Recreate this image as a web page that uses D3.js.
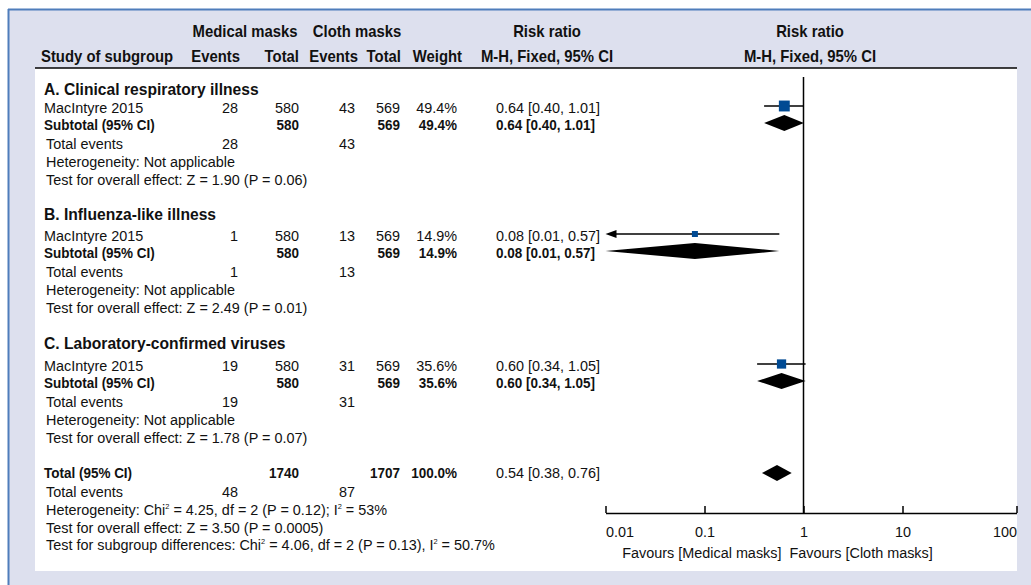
<!DOCTYPE html>
<html>
<head>
<meta charset="utf-8">
<script src="https://cdn.jsdelivr.net/npm/d3@7"></script>
<style>
  html, body { margin: 0; padding: 0; background: #fff; }
  svg { display: block; font-family: "Liberation Sans", Arial, sans-serif; }
</style>
</head>
<body>
<svg id="chart" width="1031" height="585"></svg>
<script>
// subgroup data
var subgroups = ["A. Clinical respiratory illness", "B. Influenza-like illness", "C. Laboratory-confirmed viruses"];
var studies = ["MacIntyre 2015", "MacIntyre 2015", "MacIntyre 2015"];
var medEvents = [28, 1, 19];
var medTotal = [580, 580, 580];
var clothEvents = [43, 13, 31];
var clothTotal = [569, 569, 569];
var weights = [49.4, 14.9, 35.6];
var rr = [0.64, 0.08, 0.60];
var rrLow = [0.40, 0.01, 0.34];
var rrHigh = [1.01, 0.57, 1.05];
var effectTests = ["Z = 1.90 (P = 0.06)", "Z = 2.49 (P = 0.01)", "Z = 1.78 (P = 0.07)"];

// overall
var totalMed = 1740, totalCloth = 1707, totalWeight = "100.0%";
var totalEventsMed = 48, totalEventsCloth = 87;
var totalRR = 0.54, totalLow = 0.38, totalHigh = 0.76;

var axisTicks = [0.01, 0.1, 1, 10, 100];
var axisLabels = ["0.01", "0.1", "1", "10", "100"];

var svg = d3.select("#chart");

// frame
svg.append("rect").attr("x", 8).attr("y", 9).attr("width", 1023).attr("height", 576).attr("fill", "#dde0ee");
svg.append("line").attr("x1", 8).attr("x2", 1031).attr("y1", 9.5).attr("y2", 9.5).attr("stroke", "#4f7dbb").attr("stroke-width", 2);
svg.append("line").attr("x1", 8.5).attr("x2", 8.5).attr("y1", 9).attr("y2", 585).attr("stroke", "#4f7dbb").attr("stroke-width", 2);
svg.append("rect").attr("x", 35).attr("y", 68).attr("width", 982).attr("height", 503).attr("fill", "#fff");
svg.append("line").attr("x1", 35).attr("x2", 1017).attr("y1", 68).attr("y2", 68).attr("stroke", "#000").attr("stroke-width", 1.5);

// text styles: condensed look by squeezing Liberation Sans horizontally
var styles = {
  reg:  {size: 15.5, sx: 0.93, bold: false},
  bold: {size: 15.5, sx: 0.87, bold: true},
  head: {size: 16,   sx: 0.93, bold: true},
  sect: {size: 17,   sx: 0.92, bold: true}
};

function txt(x, y, s, st, anchor) {
  st = styles[st || "reg"];
  return svg.append("text")
    .attr("transform", "translate(" + x + "," + y + ") scale(" + st.sx + ",1)")
    .attr("font-size", st.size)
    .attr("font-weight", st.bold ? "bold" : "normal")
    .attr("text-anchor", anchor || "start")
    .attr("fill", "#111")
    .text(s);
}

// header
txt(245, 37, "Medical masks", "head", "middle");
txt(357, 37, "Cloth masks", "head", "middle");
txt(547, 37, "Risk ratio", "head", "middle");
txt(810, 37, "Risk ratio", "head", "middle");
txt(41, 62, "Study of subgroup", "head");
txt(240, 62, "Events", "head", "end");
txt(299, 62, "Total", "head", "end");
txt(358, 62, "Events", "head", "end");
txt(401, 62, "Total", "head", "end");
txt(462, 62, "Weight", "head", "end");
txt(547, 62, "M-H, Fixed, 95% CI", "head", "middle");
txt(810, 62, "M-H, Fixed, 95% CI", "head", "middle");

// forest scale
var x = d3.scaleLog().domain([0.01, 10, 100]).range([605.5, 902.5, 1016.5]);
var axisY = 513;
var fmt = d3.format(".2f");

svg.append("line").attr("x1", x(1)).attr("x2", x(1)).attr("y1", 77).attr("y2", axisY)
  .attr("stroke", "#000").attr("stroke-width", 1.5);

function ciText(r, l, h) { return fmt(r) + " [" + fmt(l) + ", " + fmt(h) + "]"; }

function diamond(r, l, h, cy) {
  svg.append("path")
    .attr("d", "M" + x(l) + "," + cy + "L" + x(r) + "," + (cy - 8) + "L" + x(h) + "," + cy + "L" + x(r) + "," + (cy + 8) + "Z")
    .attr("fill", "#000");
}

function withSup(xp, y, parts) {
  var t = txt(xp, y, "", "reg");
  var back = 0;
  parts.forEach(function(p) {
    var sp = t.append("tspan").text(p.s);
    if (p.sup) {
      sp.attr("font-size", 8).attr("dy", -6);
      back = 6;
    } else if (back) {
      sp.attr("dy", back);
      back = 0;
    }
  });
  return t;
}

var headerY = [89, 214, 343];
var studyY = [108, 236, 366];
subgroups.forEach(function(name, i) {
  var y0 = headerY[i], ys0 = studyY[i];
  txt(44, y0 + 6, name, "sect");
  // study row
  txt(44, ys0 + 5, studies[i]);
  txt(238, ys0 + 5, medEvents[i], "reg", "end");
  txt(299, ys0 + 5, medTotal[i], "reg", "end");
  txt(355, ys0 + 5, clothEvents[i], "reg", "end");
  txt(400, ys0 + 5, clothTotal[i], "reg", "end");
  txt(457, ys0 + 5, weights[i].toFixed(1) + "%", "reg", "end");
  txt(496, ys0 + 5, ciText(rr[i], rrLow[i], rrHigh[i]));
  // subtotal row
  var ySub = ys0 + 16.5;
  txt(44, ySub + 5, "Subtotal (95% CI)", "bold");
  txt(299, ySub + 5, medTotal[i], "bold", "end");
  txt(400, ySub + 5, clothTotal[i], "bold", "end");
  txt(457, ySub + 5, weights[i].toFixed(1) + "%", "bold", "end");
  txt(496, ySub + 5, ciText(rr[i], rrLow[i], rrHigh[i]), "bold");
  // stats rows
  txt(46, ys0 + 41, "Total events");
  txt(238, ys0 + 41, medEvents[i], "reg", "end");
  txt(355, ys0 + 41, clothEvents[i], "reg", "end");
  txt(46, ys0 + 59, "Heterogeneity: Not applicable");
  txt(46, ys0 + 77, "Test for overall effect: " + effectTests[i]);

  // forest marks
  var ys = ys0 - 2;
  var lineStart = x(rrLow[i]);
  if (rrLow[i] <= x.domain()[0]) {
    lineStart = x(rrLow[i]) + 10;
    svg.append("path")
      .attr("d", "M" + x(rrLow[i]) + "," + ys + "L" + (x(rrLow[i]) + 11) + "," + (ys - 4) + "L" + (x(rrLow[i]) + 11) + "," + (ys + 4) + "Z")
      .attr("fill", "#000");
  }
  svg.append("line").attr("x1", lineStart).attr("x2", x(rrHigh[i])).attr("y1", ys).attr("y2", ys)
    .attr("stroke", "#000").attr("stroke-width", 1.5);
  var side = Math.sqrt(weights[i]) * 1.55;
  svg.append("rect")
    .attr("x", x(rr[i]) - side / 2).attr("y", ys - side / 2)
    .attr("width", side).attr("height", side)
    .attr("fill", "#004a93");
  diamond(rr[i], rrLow[i], rrHigh[i], ySub - 1.5);
});

// overall block
var yT = 473;
txt(44, yT + 5, "Total (95% CI)", "bold");
txt(299, yT + 5, totalMed, "bold", "end");
txt(400, yT + 5, totalCloth, "bold", "end");
txt(457, yT + 5, totalWeight, "bold", "end");
txt(496, yT + 5, ciText(totalRR, totalLow, totalHigh));
diamond(totalRR, totalLow, totalHigh, yT);
txt(46, yT + 24, "Total events");
txt(238, yT + 24, totalEventsMed, "reg", "end");
txt(355, yT + 24, totalEventsCloth, "reg", "end");
withSup(46, yT + 42, [{s: "Heterogeneity: Chi"}, {s: "2", sup: true}, {s: " = 4.25, df = 2 (P = 0.12); I"}, {s: "2", sup: true}, {s: " = 53%"}]);
txt(46, yT + 60, "Test for overall effect: Z = 3.50 (P = 0.0005)");
withSup(46, yT + 77, [{s: "Test for subgroup differences: Chi"}, {s: "2", sup: true}, {s: " = 4.06, df = 2 (P = 0.13), I"}, {s: "2", sup: true}, {s: " = 50.7%"}]);

// axis
var axis = d3.axisBottom(x)
  .tickValues(axisTicks)
  .tickFormat(function(d, i) { return axisLabels[i]; })
  .tickSizeInner(-7).tickSizeOuter(0).tickPadding(13);
var gAxis = svg.append("g").attr("transform", "translate(0," + axisY + ")").call(axis);
gAxis.attr("font-family", null).attr("font-size", null);
gAxis.select(".domain").attr("stroke-width", 1.5);
gAxis.selectAll(".tick line").attr("stroke-width", 1.5);
gAxis.selectAll(".tick text")
  .attr("font-size", styles.reg.size).attr("fill", "#111")
  .attr("transform", "scale(" + styles.reg.sx + ",1)")
  .attr("text-anchor", function(d, i) { return i === 0 ? "start" : (i === axisTicks.length - 1 ? "end" : "middle"); });

txt(x(1) - 22, 558, "Favours [Medical masks]", "reg", "end");
txt(x(1) - 14, 558, "Favours [Cloth masks]");
</script>
</body>
</html>
